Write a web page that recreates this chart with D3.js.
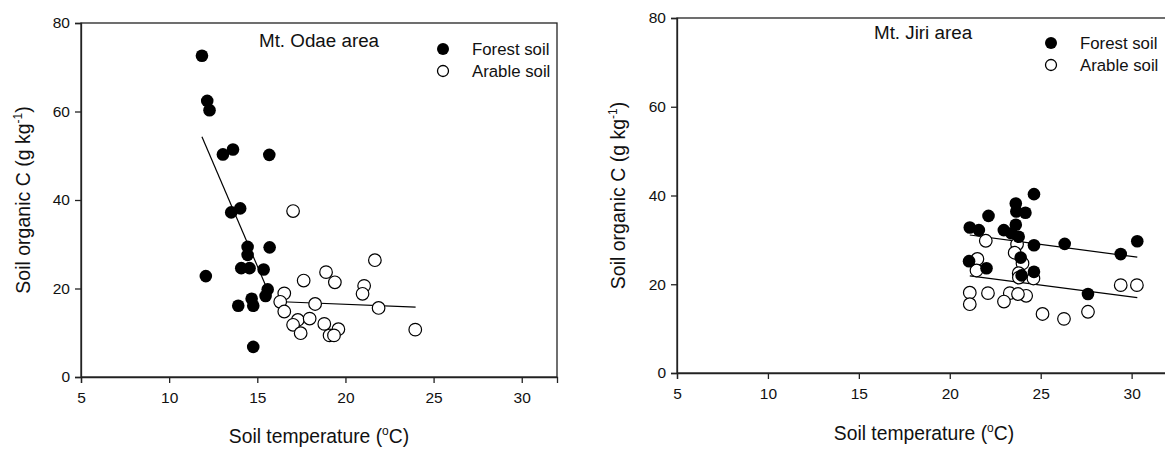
<!DOCTYPE html>
<html>
<head>
<meta charset="utf-8">
<script src="https://cdn.jsdelivr.net/npm/d3@7"></script>
<style>
  body { margin: 0; background: #fff; }
  svg { display: block; }
</style>
</head>
<body>
<script>
// soil temperature (C), soil organic C (g/kg)
const odaeForest = [
  [11.86, 72.6], [12.16, 62.4], [12.29, 60.3], [13.05, 50.3], [13.62, 51.4],
  [15.68, 50.2], [13.52, 37.2], [14.03, 38.1], [14.45, 29.4], [15.70, 29.3],
  [14.45, 27.6], [14.09, 24.6], [14.56, 24.6], [15.36, 24.3], [12.08, 22.8],
  [15.59, 19.8], [15.47, 18.3], [14.68, 17.7], [13.92, 16.1], [14.77, 16.1],
  [14.77, 6.8]
];
const odaeArable = [
  [17.03, 37.5], [21.67, 26.4], [18.90, 23.7], [17.63, 21.8], [19.40, 21.4],
  [21.06, 20.6], [20.97, 18.8], [16.53, 18.9], [16.30, 17.0], [16.53, 14.8],
  [18.28, 16.5], [21.88, 15.6], [23.96, 10.7], [17.30, 12.9], [17.97, 13.2],
  [17.03, 11.8], [17.46, 9.9], [18.80, 12.0], [19.60, 10.8], [19.10, 9.4],
  [19.35, 9.4]
];
const jiriForest = [
  [24.63, 40.3], [23.63, 38.2], [23.66, 36.4], [24.16, 36.1], [22.13, 35.4],
  [21.10, 32.8], [21.60, 32.2], [22.97, 32.2], [23.63, 33.4], [23.39, 31.5],
  [23.79, 30.7], [24.63, 28.8], [26.32, 29.1], [30.31, 29.7], [29.40, 26.8],
  [21.06, 25.2], [22.02, 23.6], [24.63, 22.8], [27.60, 17.8], [23.90, 26.0],
  [23.95, 22.0]
];
const jiriArable = [
  [21.98, 29.8], [23.70, 29.0], [23.57, 27.1], [24.00, 24.7], [21.52, 25.7],
  [21.47, 23.1], [23.79, 22.5], [23.80, 21.5], [24.60, 21.3], [21.10, 18.1],
  [22.10, 18.0], [23.30, 18.0], [24.20, 17.4], [22.98, 16.1], [21.10, 15.5],
  [25.10, 13.3], [26.28, 12.2], [27.60, 13.8], [29.40, 19.8], [30.29, 19.8],
  [23.75, 17.8]
];
// regression line end points
const odaeForestFit = [[11.86, 54.3], [15.60, 19.5]];
const odaeArableFit = [[16.42, 17.0], [23.98, 15.8]];
const jiriForestFit = [[21.10, 31.1], [30.31, 26.1]];
const jiriArableFit = [[21.10, 21.9], [30.31, 17.0]];

const xTicks = [5, 10, 15, 20, 25, 30];
const yTicks = [0, 20, 40, 60, 80];

const width = 1165, height = 450;
const font = "'Liberation Sans', Arial, sans-serif";

const svg = d3.select("body").append("svg")
  .attr("width", width)
  .attr("height", height)
  .attr("font-family", font);

const panels = [
  { title: "Mt. Odae area", forest: odaeForest, arable: odaeArable,
    fits: [odaeForestFit, odaeArableFit],
    left: 81, right: 557, top: 23, bottom: 377,
    titleX: 259, titleY: 47, legX: 443, legY: 49, axisTitleX: 319, axisTitleY: 443, yTitleX: 30 },
  { title: "Mt. Jiri area", forest: jiriForest, arable: jiriArable,
    fits: [jiriForestFit, jiriArableFit],
    left: 677, right: 1168, top: 18, bottom: 373,
    titleX: 874, titleY: 39, legX: 1051, legY: 43, axisTitleX: 924, axisTitleY: 440, yTitleX: 625 }
];

panels.forEach(p => {
  const x = d3.scaleLinear().domain([5, 32]).range([p.left, p.right]);
  const y = d3.scaleLinear().domain([0, 80]).range([p.bottom, p.top]);
  const g = svg.append("g");

  // frame
  g.append("rect")
    .attr("x", p.left).attr("y", p.top)
    .attr("width", p.right - p.left).attr("height", p.bottom - p.top)
    .attr("fill", "none").attr("stroke", "#222").attr("stroke-width", 1.3);

  const xAxis = g.append("g")
    .attr("transform", `translate(0,${p.bottom})`)
    .call(d3.axisBottom(x).tickValues(xTicks).tickSize(6).tickPadding(9).tickFormat(d3.format("d")));
  const yAxis = g.append("g")
    .attr("transform", `translate(${p.left},0)`)
    .call(d3.axisLeft(y).tickValues(yTicks).tickSize(6).tickPadding(5).tickFormat(d3.format("d")));
  [xAxis, yAxis].forEach(a => {
    a.select(".domain").attr("stroke", "#222").attr("stroke-width", 1.3);
    a.selectAll(".tick line").attr("stroke", "#222").attr("stroke-width", 1.3);
    a.selectAll("text").attr("font-family", font).attr("font-size", 15.5).attr("fill", "#111");
  });

  // regression lines
  const line = d3.line().x(d => x(d[0])).y(d => y(d[1]));
  p.fits.forEach(f => {
    g.append("path").attr("d", line(f))
      .attr("fill", "none").attr("stroke", "#000").attr("stroke-width", 1.2);
  });

  g.selectAll("circle.arable").data(p.arable).join("circle")
    .attr("class", "arable")
    .attr("cx", d => x(d[0])).attr("cy", d => y(d[1])).attr("r", 6.3)
    .attr("fill", "#fff").attr("stroke", "#000").attr("stroke-width", 1.2);

  g.selectAll("circle.forest").data(p.forest).join("circle")
    .attr("class", "forest")
    .attr("cx", d => x(d[0])).attr("cy", d => y(d[1])).attr("r", 6.3)
    .attr("fill", "#000");

  // title & legend
  g.append("text").attr("x", p.titleX).attr("y", p.titleY)
    .attr("font-size", 18.8).attr("fill", "#111").text(p.title);
  g.append("circle").attr("cx", p.legX).attr("cy", p.legY).attr("r", 6).attr("fill", "#000");
  g.append("circle").attr("cx", p.legX).attr("cy", p.legY + 22).attr("r", 5.5)
    .attr("fill", "#fff").attr("stroke", "#000").attr("stroke-width", 1.3);
  g.append("text").attr("x", p.legX + 29).attr("y", p.legY + 6)
    .attr("font-size", 16.8).attr("fill", "#111").text("Forest soil");
  g.append("text").attr("x", p.legX + 29).attr("y", p.legY + 28)
    .attr("font-size", 16.8).attr("fill", "#111").text("Arable soil");

  // axis titles
  const xt = g.append("text").attr("x", p.axisTitleX).attr("y", p.axisTitleY)
    .attr("text-anchor", "middle").attr("font-size", 19.3).attr("fill", "#111");
  xt.append("tspan").text("Soil temperature (");
  xt.append("tspan").attr("dy", -8).attr("font-size", 12).text("o");
  xt.append("tspan").attr("dy", 8).text("C)");

  const cy = (p.top + p.bottom) / 2;
  const yt = g.append("text")
    .attr("transform", `translate(${p.yTitleX},${cy}) rotate(-90)`)
    .attr("text-anchor", "middle").attr("font-size", 19.5).attr("fill", "#111");
  yt.append("tspan").text("Soil organic C (g kg");
  yt.append("tspan").attr("dy", -8).attr("font-size", 12).text("-1");
  yt.append("tspan").attr("dy", 8).text(")");
});
</script>
</body>
</html>
